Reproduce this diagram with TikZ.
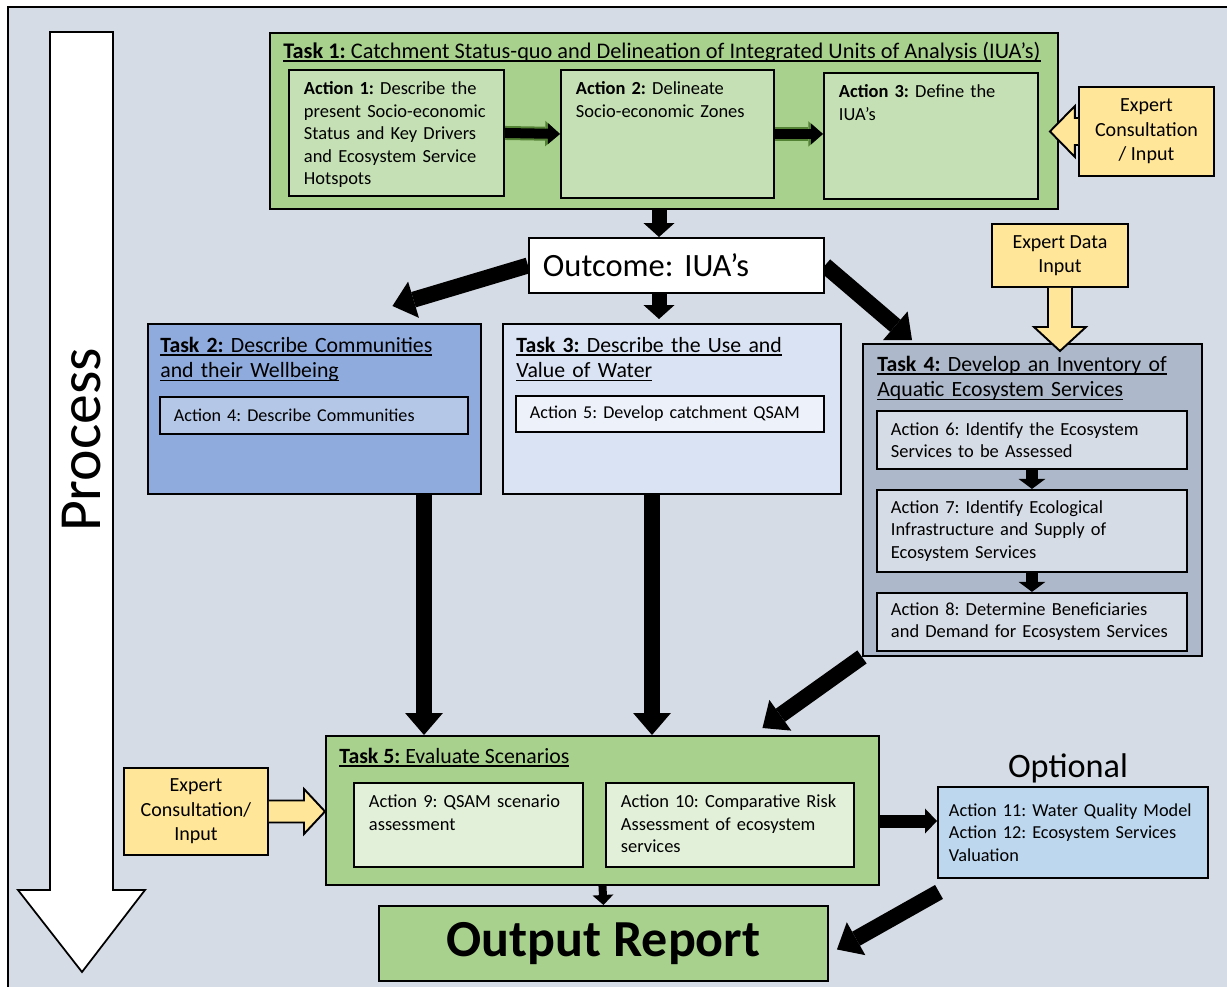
\documentclass[tikz,border=0pt]{standalone}
\usepackage{fontspec}
\setmainfont{Carlito}
\usetikzlibrary{arrows.meta,positioning,calc}
\pgfdeclarelayer{background}
\pgfsetlayers{background,main}

\definecolor{bgcol}{HTML}{D6DCE5}
\definecolor{greenbox}{HTML}{A9D18E}
\definecolor{greenact}{HTML}{C5E0B4}
\definecolor{greenpale}{HTML}{E2F0D9}
\definecolor{greenglow}{HTML}{548235}
\definecolor{bluebox}{HTML}{8FAADC}
\definecolor{blueact}{HTML}{B4C7E7}
\definecolor{paleblue}{HTML}{DAE3F3}
\definecolor{paleract}{HTML}{EDF1F9}
\definecolor{greybox}{HTML}{ADB9CA}
\definecolor{greyact}{HTML}{D6DCE5}
\definecolor{optblue}{HTML}{BDD7EE}
\definecolor{expertyellow}{HTML}{FFE699}

\newlength\px
\setlength\px{0.02cm}
\newsavebox\ulbox
\newcommand{\ulined}[1]{\leavevmode\sbox\ulbox{#1}\rlap{\vrule height -1.2pt depth 2pt width \wd\ulbox}\usebox\ulbox}
\frenchspacing

\begin{document}
\begin{tikzpicture}[x=0.02cm,y=-0.02cm,
    panel/.style={draw, line width=1.1pt, anchor=north west, inner sep=0pt},
    title/.style={anchor=base west, inner sep=0pt, font=\fontsize{12.4}{14.7}\selectfont},
    title2/.style={title, text width=330\px, align=left},
    actbox/.style={draw, line width=1.1pt, anchor=north west, inner xsep=15\px, inner ysep=12\px,
                   text height=13\px, align=left, font=\fontsize{10.5}{12.75}\selectfont},
    linebox/.style={draw, line width=1.1pt, anchor=north west, inner xsep=14\px, inner ysep=0pt,
                   align=left, font=\fontsize{10.5}{12.75}\selectfont},
    expert/.style={draw, line width=1.1pt, fill=expertyellow, anchor=north west, align=center,
                   inner sep=0pt, font=\fontsize{11.4}{13.9}\selectfont},
    hollowarrow/.style={draw, line width=1.1pt, fill=expertyellow, line join=miter},
    bigarrow/.style={line width=16\px, -{Triangle[width=21.5pt, length=12.5pt, line width=0pt]}},
    midarrow/.style={line width=15\px, -{Triangle[width=17.6pt, length=7.9pt, line width=0pt]}},
    glowarrow/.style={greenglow, line width=14\px, -{Triangle[width=14.5pt, length=8.4pt, line width=0pt]}},
    smallarrow/.style={line width=10\px, -{Triangle[width=11.9pt, length=6.8pt, line width=0pt]}},
    tinyarrow/.style={line width=12\px, -{Triangle[width=15.3pt, length=5.7pt, line width=0pt]}},
    optarrow/.style={line width=13\px, -{Triangle[width=14.2pt, length=6.8pt, line width=0pt]}},
    thinarrow/.style={line width=8\px, -{Triangle[width=11.9pt, length=5.7pt, line width=0pt]}}]
  \useasboundingbox (0,0) rectangle (1227,987);
  \begin{pgfonlayer}{background}
    \fill[bgcol] (8,7) rectangle (1227,987);
    \draw[line width=1.1pt] (1227,7) -- (8,7) -- (8,987);
    % process arrow
    \draw[line width=1pt, fill=white] (50,32) -- (113,32) -- (113,890) -- (145,890)
      -- (82,972) -- (18,890) -- (50,890) -- cycle;
  \end{pgfonlayer}
  \node[rotate=90, anchor=base, font=\fontsize{34}{40}\selectfont] (proc) at (100,440) {Process};

  % Task 1
  \node[panel, fill=greenbox, minimum width=788\px, minimum height=176\px] (task1) at (269,32) {};
  \node[title, font=\fontsize{12.7}{15}\selectfont] (t1title) at (283,58) {\ulined{\textbf{Task 1:} Catchment Status-quo and Delineation of Integrated Units of Analysis (IUA’s)}};
  \node[actbox, fill=greenact, text width=185\px, text depth=89\px] (act1) at (288,69)
    {\textbf{Action 1:} Describe the\\present Socio-economic\\Status and Key Drivers\\and Ecosystem Service\\Hotspots};
  \node[actbox, fill=greenact, text width=183\px, text depth=91\px] (act2) at (560,69)
    {\textbf{Action 2:} Delineate\\Socio-economic Zones};
  \node[actbox, fill=greenact, text width=184\px, text depth=89\px] (act3) at (823,72)
    {\textbf{Action 3:} Define the\\IUA’s};
  \node[expert, minimum width=135\px, minimum height=89\px] (exp1) at (1078,86) {Expert\\Consultation\\/ Input};

  % outcome
  \node[panel, fill=white, minimum width=295\px, minimum height=55\px, inner xsep=14\px,
        text width=267\px, align=left, font=\fontsize{18.5}{22}\selectfont] (outcome) at (528,237) {Outcome: IUA’s};

  % Task 2 and Task 3
  \node[panel, fill=bluebox, minimum width=333\px, minimum height=170\px] (task2) at (147,323) {};
  \node[title2] (t2title) at (160,352) {\ulined{\textbf{Task 2:} Describe Communities}\\\ulined{and their Wellbeing}};
  \node[linebox, fill=blueact, text width=280\px, minimum height=37\px, font=\fontsize{10.3}{12.5}\selectfont] (act4) at (159,396) {Action 4: Describe Communities};
  \node[panel, fill=paleblue, minimum width=338\px, minimum height=170\px] (task3) at (502,323) {};
  \node[title2] (t3title) at (516,352) {\ulined{\textbf{Task 3:} Describe the Use and}\\\ulined{Value of Water}};
  \node[linebox, fill=paleract, text width=280\px, minimum height=36\px, font=\fontsize{10.3}{12.5}\selectfont] (act5) at (515,395) {Action 5: Develop catchment QSAM};

  % Task 4
  \node[expert, minimum width=136\px, minimum height=63\px] (exd) at (991,223) {Expert Data\\Input};
  \node[panel, fill=greybox, minimum width=339\px, minimum height=312\px] (task4) at (862,343) {};
  \node[title2] (t4title) at (877,371) {\ulined{\textbf{Task 4:} Develop an Inventory of}\\\ulined{Aquatic Ecosystem Services}};
  \node[linebox, fill=greyact, text width=282\px, minimum height=58\px] (act6) at (876,410)
    {Action 6: Identify the Ecosystem\\Services to be Assessed};
  \node[linebox, fill=greyact, text width=282\px, minimum height=82\px, below=19\px of act6] (act7)
    {Action 7: Identify Ecological\\Infrastructure and Supply of\\Ecosystem Services};
  \node[linebox, fill=greyact, text width=282\px, minimum height=58\px, below=19\px of act7] (act8)
    {Action 8: Determine Beneficiaries\\and Demand for Ecosystem Services};

  % Task 5
  \node[panel, fill=greenbox, minimum width=553\px, minimum height=149\px] (task5) at (325,735) {};
  \node[title] (t5title) at (339,763) {\ulined{\textbf{Task 5:} Evaluate Scenarios}};
  \node[actbox, fill=greenpale, text width=199\px, text depth=47\px] (act9) at (353,782)
    {Action 9: QSAM scenario\\assessment};
  \node[actbox, fill=greenpale, text width=218\px, text depth=47\px, right=21\px of act9] (act10)
    {Action 10: Comparative Risk\\Assessment of ecosystem\\services};
  \node[expert, minimum width=144\px, minimum height=87\px] (exp2) at (123,767) {Expert\\Consultation/\\Input};

  % optional and output
  \node[anchor=base, font=\fontsize{19.5}{22}\selectfont] (optlabel) at (1068,777) {Optional};
  \node[panel, fill=optblue, minimum width=270\px, minimum height=91\px, inner xsep=11\px,
        text width=248\px, align=left, font=\fontsize{10.4}{12.75}\selectfont] (opt) at (937,786)
    {Action 11: Water Quality Model\\Action 12: Ecosystem Services\\Valuation};
  \node[panel, fill=greenbox, minimum width=449\px, minimum height=75\px,
        font=\bfseries\fontsize{29.6}{33}\selectfont] (output) at (378,905) {Output Report};

  % connectors
  \coordinate (mid) at (659,0);
  \coordinate (c2) at (424,0);
  \coordinate (c3) at (652,0);
  \coordinate (c6) at (0,821);
  \draw[glowarrow] (act1.east) -- (act2.west);
  \draw[smallarrow] (act1.east) -- (act2.west);
  \draw[glowarrow] (act2.east) -- (act2.east -| act3.west);
  \draw[smallarrow] (act2.east) -- (act2.east -| act3.west);
  \draw[midarrow] (task1.south -| mid) -- (outcome.north -| mid);
  \draw[midarrow, shorten >=4\px] (outcome.south -| mid) -- (task3.north -| mid);
  \draw[tinyarrow] (act6.south) -- (act7.north);
  \draw[tinyarrow] (act7.south) -- (act8.north);
  \draw[bigarrow] (task2.south -| c2) -- (task5.north -| c2);
  \draw[bigarrow] (task3.south -| c3) -- (task5.north -| c3);
  \draw[optarrow] (task5.east |- c6) -- (opt.west |- c6);
  \draw[thinarrow] (task5.south) -- (output.north);
  \begin{pgfonlayer}{background}
    \draw[bigarrow] (outcome.west) -- ([shift={(78,-17)}]task2.north);
    \draw[bigarrow] (outcome.east) -- ([shift={(50,-3)}]task4.north west);
    \draw[bigarrow] (task4.south west) -- ([shift={(160,-7)}]task5.north);
    \draw[bigarrow] ([shift={(2,13)}]opt.south west) -- ([shift={(8,6)}]output.east);
  \end{pgfonlayer}

  % expert inputs
  \coordinate (tip1) at ($(task1.east |- exp1.west)+(-9,0)$);
  \draw[hollowarrow] ($(exp1.west)+(0,-13.5)$) -- ($(tip1)+(25,-13.5)$) -- ($(tip1)+(25,-25.5)$)
    -- (tip1) -- ($(tip1)+(25,25.5)$) -- ($(tip1)+(25,13.5)$) -- ($(exp1.west)+(0,13.5)$);
  \coordinate (tip2) at ($(task4.north -| exd.south)+(0,8)$);
  \draw[hollowarrow] ($(exd.south)+(-12,0)$) -- ($(tip2)+(-12,-24)$) -- ($(tip2)+(-26,-24)$)
    -- (tip2) -- ($(tip2)+(26,-24)$) -- ($(tip2)+(12,-24)$) -- ($(exd.south)+(12,0)$);
  \coordinate (tip3) at (task5.west |- exp2.east);
  \draw[hollowarrow] ($(exp2.east)+(0,-11)$) -- ($(tip3)+(-21,-11)$) -- ($(tip3)+(-21,-22.5)$)
    -- (tip3) -- ($(tip3)+(-21,22.5)$) -- ($(tip3)+(-21,11)$) -- ($(exp2.east)+(0,11)$);
\end{tikzpicture}
\end{document}
